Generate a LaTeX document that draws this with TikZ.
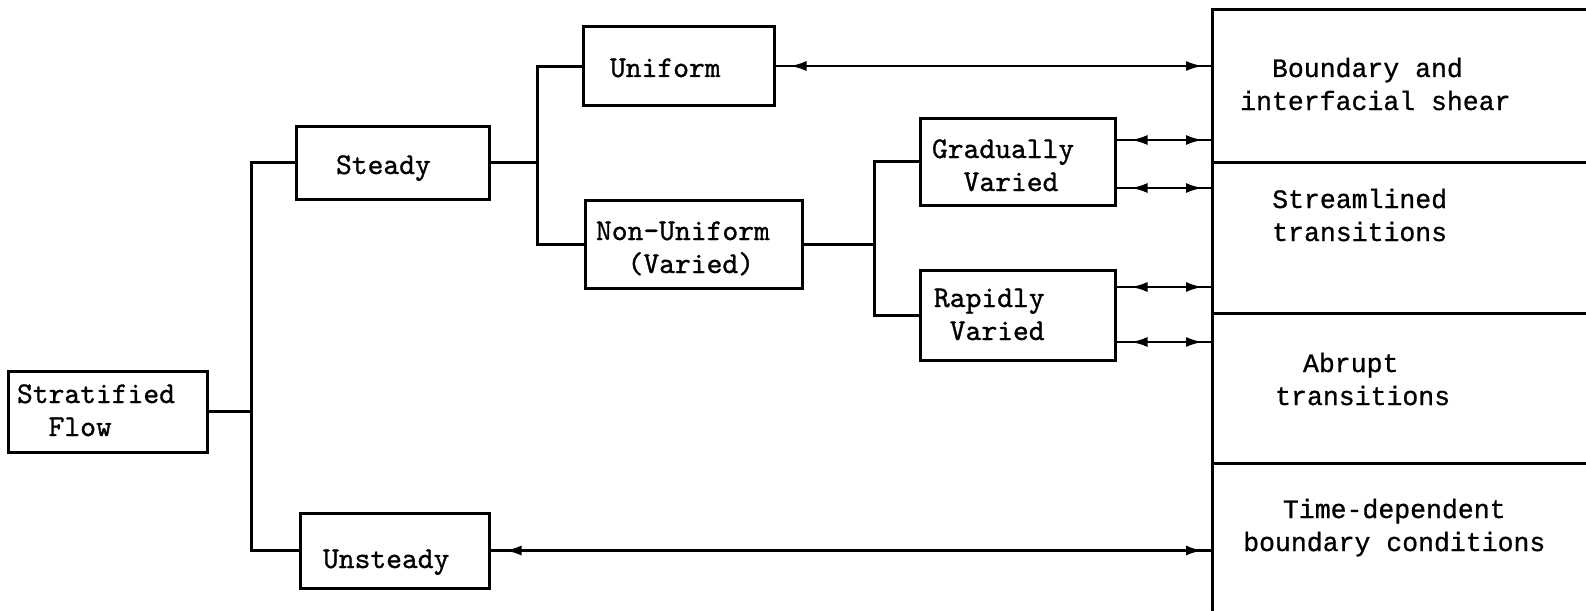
\documentclass[tikz,border=0pt]{standalone}
\usepackage{fontspec}
\newfontfamily\rfont[FakeBold=0.8]{Liberation Mono}
\newfontfamily\lfont[FakeBold=1.0,Extension=.otf]{lmmono10-regular}
\usetikzlibrary{arrows.meta,decorations.markings}
\newcommand\chind[1]{\hspace*{#1\fontcharwd\font 120 }}
\begin{document}
\begin{tikzpicture}[x=1pt,y=-1pt,
  box/.style={draw, line width=3pt, align=left, inner ysep=0pt,
     font=\lfont\fontsize{30.1}{33}\selectfont},
  conn/.style={line width=3pt},
  tipL/.tip={Latex[length=17pt,width=10pt]},
  biarrow/.style={line width=2.8pt, postaction={decorate}, decoration={markings,
     mark=at position 14pt with {\arrowreversed{tipL}},
     mark=at position -9pt with {\arrow{tipL}}}},
  cell/.style={anchor=base west, inner sep=0pt, align=left, text width=330pt,
     font=\rfont\fontsize{26.5}{33}\selectfont},
  frame/.style={line width=3pt}
]
\fill[white] (0,0) rectangle (1586,610);
\useasboundingbox (0,0) rectangle (1586,610);

% boxes
\node[box, inner xsep=9pt, text width=181pt, minimum height=81pt, text height=17pt, text depth=34pt] (strat) at (107.5,411.5) {Stratified\\\chind{2}Flow};
\node[box, inner xsep=40pt, text width=113pt, minimum height=73pt, text height=23pt, text depth=0pt] (steady) at (392.5,162.5) {Steady};
\node[box, inner xsep=23pt, text width=143pt, minimum height=75pt, text height=35pt, text depth=0pt] (unsteady) at (394.5,550.5) {Unsteady};
\node[box, inner xsep=27pt, text width=137pt, minimum height=78pt, text height=22pt, text depth=0pt] (uniform) at (678.5,66) {Uniform};
\node[box, inner xsep=11pt, text width=195pt, minimum height=88pt, text height=26pt, text depth=34pt] (nonu) at (693.5,244) {Non-Uniform\\\chind{2}(Varied)};
\node[box, inner xsep=12pt, text width=171pt, minimum height=87pt, text height=27pt, text depth=34pt] (gv) at (1017.5,161.5) {Gradually\\\chind{2}Varied};
\node[box, inner xsep=14pt, text width=167pt, minimum height=90pt, text height=18pt, text depth=34pt] (rv) at (1017.5,315) {Rapidly\\\chind{1}Varied};

% tree connectors
\coordinate (j1) at (251,411.5);
\draw[conn] (strat.east) -- (j1);
\draw[conn] (steady.west) -| (j1) |- (unsteady.west);
\coordinate (j2) at (537,162.5);
\draw[conn] (steady.east) -- (j2);
\draw[conn] (uniform.west) -| (j2) |- (nonu.west);
\coordinate (j3) at (874,244);
\draw[conn] (nonu.east) -- (j3);
\draw[conn] (gv.west) -| (j3) |- (rv.west);

% right column
\coordinate (colT) at (1212,9.5);
\coordinate (colB) at (1212,614);
\coordinate (edge) at (1592,0);
\coordinate (d1) at (1212,162);
\coordinate (d2) at (1212,313);
\coordinate (d3) at (1212,463);
\draw[frame] (colB) -- (colT) -- (colT -| edge);
\draw[frame] (d1) -- (d1 -| edge);
\draw[frame] (d2) -- (d2 -| edge);
\draw[frame] (d3) -- (d3 -| edge);

\node[cell] (c1) at (1240,77) {\chind{2}Boundary\chind{1}and\\interfacial\chind{1}shear};
\node[cell] (c2) at (1272,208) {Streamlined\\transitions};
\node[cell] (c3) at (1275,372) {\chind{1.75}Abrupt\\transitions};
\node[cell] (c4) at (1243,518) {\chind{2.5}Time-dependent\\boundary\chind{1}conditions};

% two-way arrows
\coordinate (ga) at (0,140);
\coordinate (gb) at (0,188);
\coordinate (ra) at (0,287);
\coordinate (rb) at (0,342);
\draw[biarrow] (uniform.east) -- (uniform.east -| colT);
\draw[biarrow] (gv.east |- ga) -- (colT |- ga);
\draw[biarrow] (gv.east |- gb) -- (colT |- gb);
\draw[biarrow] (rv.east |- ra) -- (colT |- ra);
\draw[biarrow] (rv.east |- rb) -- (colT |- rb);
\draw[biarrow] (unsteady.east) -- (unsteady.east -| colT);
\end{tikzpicture}
\end{document}
